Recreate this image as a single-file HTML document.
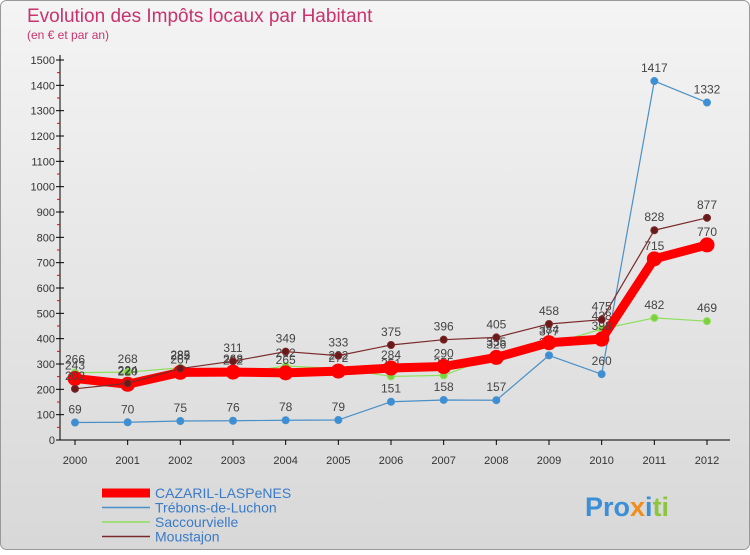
<!DOCTYPE html>
<html><head><meta charset="utf-8"><style>
body{margin:0;width:750px;height:550px;overflow:hidden;font-family:"Liberation Sans",sans-serif}
</style></head><body>
<svg width="750" height="550" xmlns="http://www.w3.org/2000/svg">
<defs><linearGradient id="bg" x1="0" y1="0" x2="0" y2="1"><stop offset="0" stop-color="#f4f4f4"/><stop offset="1" stop-color="#d8d8d8"/></linearGradient></defs>
<rect x="0.5" y="0.5" width="749" height="549" rx="6" fill="url(#bg)" stroke="#999"/>
<text x="27" y="22" font-size="19" fill="#c8336e">Evolution des Impôts locaux par Habitant</text>
<text x="27" y="39" font-size="12" fill="#c8336e">(en € et par an)</text>
<g id="axes"></g>
<g id="series"></g>
<g id="legend"></g>
<text x="585" y="516" font-size="27" font-weight="bold"><tspan fill="#3a8fd8">Pro</tspan><tspan fill="#f28c1c">x</tspan><tspan fill="#3a8fd8">i</tspan><tspan fill="#8cc63f">ti</tspan></text>
</svg>
<script>
const years=[2000,2001,2002,2003,2004,2005,2006,2007,2008,2009,2010,2011,2012];
const yTicks=[0,100,200,300,400,500,600,700,800,900,1000,1100,1200,1300,1400,1500];
const cazaril=[243,220,267,268,265,272,284,290,326,384,398,715,770];
const trebons=[69,70,75,76,78,79,151,158,157,334,260,1417,1332];
const saccour=[266,268,285,262,292,282,251,255,335,377,438,482,469];
const moustajon=[202,224,282,311,349,333,375,396,405,458,475,828,877];
const NS="http://www.w3.org/2000/svg";
const X=i=>75+i*(707-75)/12;
const Y=v=>440-v*(380/1500);
function mk(t,a,p){const e=document.createElementNS(NS,t);for(const k in a)e.setAttribute(k,a[k]);p.appendChild(e);return e;}
const ax=document.getElementById('axes');
let l=mk('line',{x1:60,y1:55,x2:60,y2:440,stroke:'#000'},ax);


l=mk('line',{x1:60,y1:440,x2:730,y2:440,stroke:'#000'},ax);


for(let v=50;v<1500;v+=100){const t=mk('line',{x1:57,y1:Y(v),x2:60,y2:Y(v),stroke:'#e00'},ax);}
yTicks.forEach(v=>{mk('line',{x1:56,y1:Y(v),x2:64,y2:Y(v),stroke:'#000'},ax);
const t=mk('text',{x:55,y:Y(v)+4,'font-size':11,'text-anchor':'end',fill:'#333'},ax);t.textContent=v;

});
years.forEach((y,i)=>{mk('line',{x1:X(i),y1:440,x2:X(i),y2:445,stroke:'#000'},ax);
const t=mk('text',{x:X(i),y:464,'font-size':11,'text-anchor':'middle',fill:'#333'},ax);t.textContent=y;

});
const sg=document.getElementById('series');
function draw(data,color,w,r,name,dot){
const g=mk('g',{},sg);


mk('polyline',{points:data.map((v,i)=>X(i)+','+Y(v)).join(' '),fill:'none',stroke:color,'stroke-width':w,'stroke-linejoin':'round'},g);
data.forEach((v,i)=>{const c=mk('circle',{cx:X(i),cy:Y(v),r:r,fill:dot,stroke:color,'stroke-width':1},g);


const t=mk('text',{x:X(i),y:Y(v)-9,'font-size':12,'text-anchor':'middle',fill:'#444'},g);t.textContent=v;

});}
draw(trebons,'#4a90c8',1.2,3.5,'trebons-series','#3a8fd8');
draw(saccour,'#8ee05a',1.2,3.5,'saccourvielle-series','#7ed040');
draw(cazaril,'#ff0000',9,7,'cazaril-series','#ff0000');
draw(moustajon,'#7a2a2a',1.2,3.5,'moustajon-series','#6a1a1a');
const lg=document.getElementById('legend');
[['CAZARIL-LASPeNES','#ff0000',9,'legend-cazaril'],['Trébons-de-Luchon','#4a90c8',1.5,'legend-trebons'],['Saccourvielle','#8ee05a',1.5,'legend-saccourvielle'],['Moustajon','#7a2a2a',1.5,'legend-moustajon']].forEach((d,i)=>{
const y=493+i*14.5;const g=mk('g',{},lg);


mk('line',{x1:102,y1:y,x2:150,y2:y,stroke:d[1],'stroke-width':d[2]},g);
const t=mk('text',{x:155,y:y+5,'font-size':14,fill:'#3a7ac8'},g);t.textContent=d[0];});
</script>
</body></html>
